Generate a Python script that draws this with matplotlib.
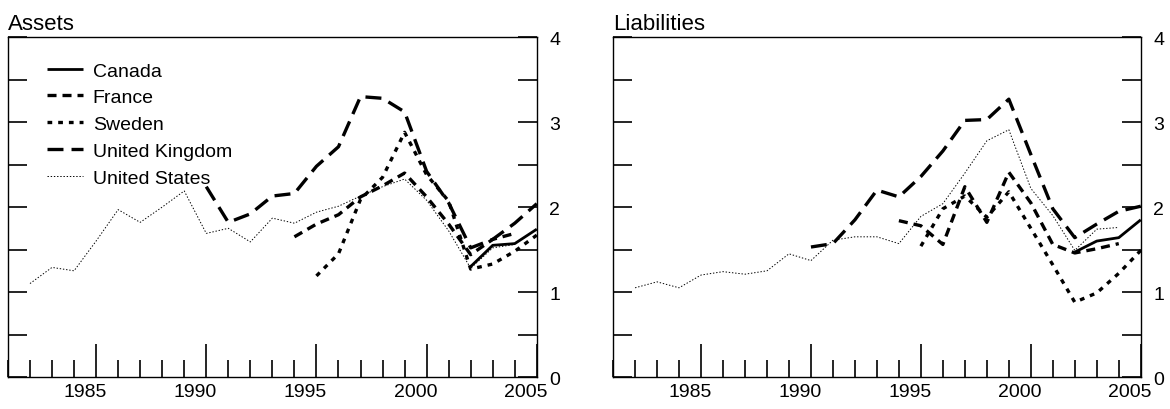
import matplotlib
matplotlib.use('Agg')
import matplotlib.pyplot as plt
from matplotlib.ticker import MultipleLocator
from matplotlib.transforms import ScaledTranslation

plt.rcParams['font.family'] = ['Liberation Sans', 'DejaVu Sans']
plt.rcParams['lines.scale_dashes'] = False

countries = ['Canada', 'France', 'Sweden', 'United Kingdom', 'United States']

# first year of each series
start = {'Canada': 2002, 'France': 1994, 'Sweden': 1995,
         'United Kingdom': 1990, 'United States': 1982}

assets_canada = [1.30, 1.55, 1.57, 1.74]
assets_france = [1.65, 1.80, 1.91, 2.12, 2.25, 2.40, 2.12, 1.80, 1.44, 1.62, 1.69]
assets_sweden = [1.19, 1.45, 2.09, 2.35, 2.88, 2.38, 2.07, 1.27, 1.33, 1.48, 1.67]
assets_uk = [2.24, 1.82, 1.92, 2.13, 2.16, 2.48, 2.71, 3.30, 3.28, 3.12,
             2.42, 2.05, 1.52, 1.62, 1.81, 2.04]
assets_us = [1.10, 1.29, 1.25, 1.60, 1.97, 1.82, 2.00, 2.19, 1.69, 1.75, 1.59,
             1.87, 1.81, 1.94, 2.01, 2.13, 2.24, 2.33, 2.08, 1.72, 1.28, 1.52, 1.56]

liab_canada = [1.47, 1.60, 1.64, 1.85]
liab_france = [1.84, 1.78, 1.56, 2.24, 1.82, 2.41, 2.05, 1.56, 1.46, 1.51, 1.57]
liab_sweden = [1.54, 1.98, 2.13, 1.88, 2.18, 1.75, 1.32, 0.88, 0.99, 1.22, 1.49]
liab_uk = [1.53, 1.57, 1.85, 2.20, 2.12, 2.36, 2.66, 3.02, 3.03, 3.27,
           2.62, 1.98, 1.64, 1.80, 1.95, 2.01]
liab_us = [1.05, 1.12, 1.05, 1.20, 1.24, 1.21, 1.25, 1.45, 1.37, 1.61, 1.65,
           1.65, 1.57, 1.89, 2.04, 2.40, 2.78, 2.91, 2.22, 1.90, 1.49, 1.74, 1.76]

assets = dict(zip(countries, [assets_canada, assets_france, assets_sweden, assets_uk, assets_us]))
liabs = dict(zip(countries, [liab_canada, liab_france, liab_sweden, liab_uk, liab_us]))

# line width, dash pattern (points)
style = {'Canada': (2.0, None),
         'France': (2.4, (6.5, 4.3)),
         'Sweden': (2.4, (3.4, 4.3)),
         'United Kingdom': (2.4, (11.5, 5.8)),
         'United States': (0.7, (1.0, 1.3))}

fig = plt.figure(figsize=(11.7, 4.1), dpi=100)
ax1 = fig.add_axes([0.0068, 0.078, 0.452, 0.829])
ax2 = fig.add_axes([0.524, 0.078, 0.451, 0.829])

for ax, data, title in [(ax1, assets, 'Assets'), (ax2, liabs, 'Liabilities')]:
    for c in countries:
        vals = data[c]
        yrs = list(range(start[c], start[c] + len(vals)))
        lw, dash = style[c]
        line, = ax.plot(yrs, vals, color='black', lw=lw, label=c,
                        solid_capstyle='butt', dash_capstyle='butt')
        if dash:
            line.set_dashes(dash)
    ax.set_xlim(1981, 2005)
    ax.set_ylim(0, 4)
    ax.set_xticks([1985, 1990, 1995, 2000, 2005])
    ax.xaxis.set_minor_locator(MultipleLocator(1))
    ax.yaxis.set_major_locator(MultipleLocator(1))
    ax.yaxis.set_minor_locator(MultipleLocator(0.5))
    ax.tick_params(axis='x', which='major', direction='in', length=24, width=1.2,
                   labelsize=14, pad=4)
    ax.tick_params(axis='x', which='minor', direction='in', length=12, width=1.2)
    ax.tick_params(axis='y', which='both', direction='in', length=14, width=1.2,
                   left=True, right=True, labelleft=False, labelright=True,
                   labelsize=14, pad=9)
    for s in ax.spines.values():
        s.set_linewidth(1.0)
    # year labels sit half a year left of their tick
    for lbl in ax.get_xticklabels():
        lbl.set_transform(lbl.get_transform() + ScaledTranslation(-0.11, 0, fig.dpi_scale_trans))
    ax.set_title(title, loc='left', fontsize=16, pad=6)

ax1.legend(loc='upper left', bbox_to_anchor=(0.074, 0.927), frameon=False, fontsize=14,
           handlelength=1.85, handletextpad=0.5, labelspacing=0.47,
           borderpad=0, borderaxespad=0)

fig.savefig('out.png', dpi=100)
